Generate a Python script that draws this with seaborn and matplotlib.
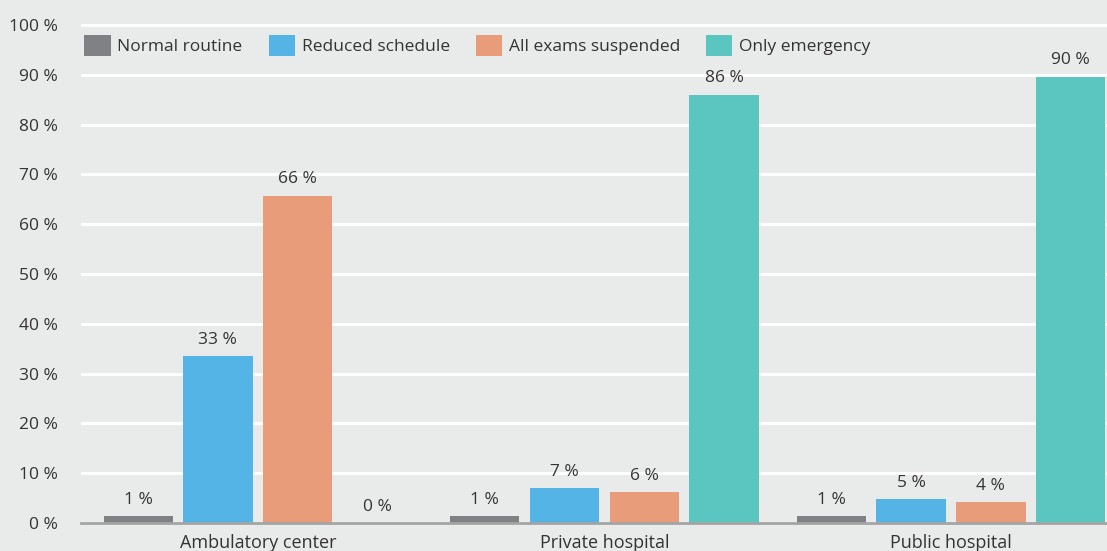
import matplotlib
matplotlib.use("Agg")
import matplotlib.pyplot as plt
import pandas as pd
import seaborn as sns

# data
settings = ["Ambulatory center", "Private hospital", "Public hospital"]
statuses = ["Normal routine", "Reduced schedule", "All exams suspended", "Only emergency"]
normal_routine = [1.4, 1.4, 1.4]
reduced_schedule = [33.5, 7.0, 4.8]
all_suspended = [65.7, 6.2, 4.2]
only_emergency = [0.0, 86.0, 89.6]
normal_labels = ["1 %", "1 %", "1 %"]
reduced_labels = ["33 %", "7 %", "5 %"]
suspended_labels = ["66 %", "6 %", "4 %"]
emergency_labels = ["0 %", "86 %", "90 %"]
yticks = list(range(0, 101, 10))

colors = ["#808184", "#55b4e6", "#e99c7a", "#5bc5bf"]
bg = "#e9ebea"
txt = "#333333"

df = pd.DataFrame({
    "setting": settings * 4,
    "status": [s for s in statuses for _ in settings],
    "pct": normal_routine + reduced_schedule + all_suspended + only_emergency,
})
labels = [normal_labels, reduced_labels, suspended_labels, emergency_labels]

sns.set_style("white")
plt.rcParams["font.family"] = ["Open Sans", "DejaVu Sans"]

fig = plt.figure(figsize=(11.07, 5.51), dpi=100, facecolor=bg)
ax = fig.add_axes([81 / 1107, 28 / 551, 1 - 81 / 1107, 498 * 1.01 / 551])
ax.set_facecolor(bg)

sns.barplot(data=df, x="setting", y="pct", hue="status", order=settings,
            hue_order=statuses, palette=colors, width=0.92, gap=0.13,
            saturation=1, linewidth=0, ax=ax, legend=True)

for cont, labs in zip(ax.containers, labels):
    ax.bar_label(cont, labels=labs, padding=6, fontsize=12.5, color=txt)

ax.set_ylim(0, 101)
ax.set_xlim(-0.51, 2.45)
ax.set_yticks(yticks, labels=[f"{t} %" for t in yticks])
ax.yaxis.grid(True, color="white", linewidth=2.2)
ax.set_axisbelow(True)
ax.tick_params(axis="y", length=0, pad=16.5, labelsize=12.5, labelcolor=txt)
ax.tick_params(axis="x", length=0, pad=8, labelsize=13, labelcolor=txt)
ax.set_xlabel("")
ax.set_ylabel("")
for side in ["top", "right", "left"]:
    ax.spines[side].set_visible(False)
ax.spines["bottom"].set_color("#a3a5a5")
ax.spines["bottom"].set_linewidth(2)

handles, leg_labels = ax.get_legend_handles_labels()
ax.legend(handles, leg_labels, loc="upper left", bbox_to_anchor=(0.0, 0.978),
          ncol=4, frameon=False, fontsize=12.5, handlelength=1.5,
          handleheight=1.5, handletextpad=0.4, columnspacing=1.5,
          labelcolor=txt, borderaxespad=0.1, borderpad=0.1)

fig.savefig("out.png", dpi=100, facecolor=bg)
